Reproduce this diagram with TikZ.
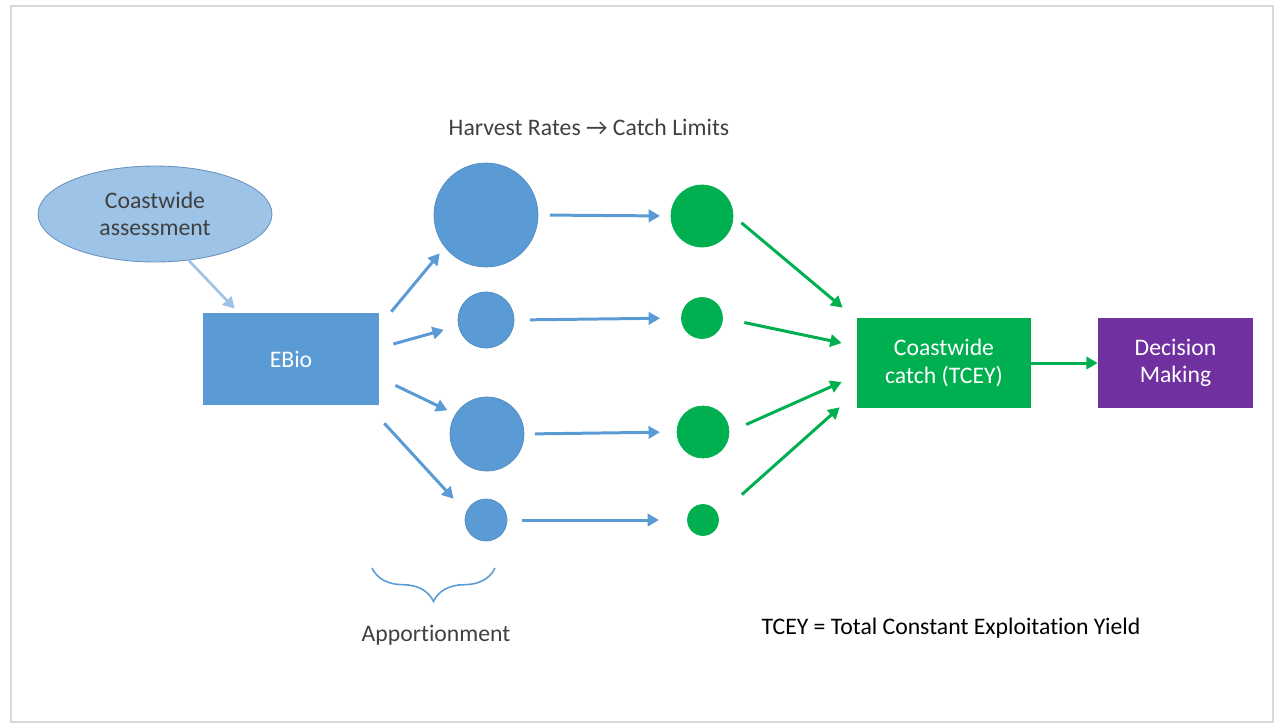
\documentclass[tikz,border=0pt]{standalone}
\usepackage{fontspec}
\setmainfont{Carlito}[Ligatures=NoCommon]
\usetikzlibrary{arrows.meta,shapes.geometric,decorations.pathreplacing}
\definecolor{boxblue}{HTML}{5B9BD5}
\definecolor{lightblue}{HTML}{9DC3E6}
\definecolor{edgeblue}{HTML}{6A93C2}
\definecolor{boxgreen}{HTML}{00B050}
\definecolor{boxpurple}{HTML}{7030A0}
\definecolor{textgray}{HTML}{404040}
\tikzset{
  blk/.style={rectangle, minimum height=1.8cm, text=white, align=center, inner sep=0pt},
  rate/.style={circle, fill=boxblue, draw=boxblue!90!black, line width=0.4pt, inner sep=0pt},
  limit/.style={circle, fill=boxgreen, draw=boxgreen, line width=0.4pt, inner sep=0pt},
  bluearr/.style={draw=boxblue, line width=1.7pt, -{Triangle[length=6.5pt,width=7pt]}},
  greenarr/.style={draw=boxgreen, line width=1.7pt, -{Triangle[length=6.5pt,width=7pt]}},
}

\begin{document}
\begin{tikzpicture}[x=0.02cm, y=-0.02cm, font=\fontsize{13.5}{15.5}\selectfont]
\useasboundingbox (0,0) rectangle (1275,724);
%%%%% Frame %%%%%
\draw[gray!30, line width=1.5pt] (11,6) rectangle (1273,722);

%%%%% Boxes %%%%%
\node[ellipse, fill=lightblue, draw=edgeblue, line width=0.5pt, minimum width=4.68cm, minimum height=1.92cm, inner sep=0pt, align=center, text=textgray] (assess) at (155,214) {Coastwide\\assessment};
\node[blk, fill=boxblue, minimum width=3.52cm, minimum height=1.84cm] (ebio) at (291,359) {EBio};
\node[blk, fill=boxgreen, minimum width=3.48cm] (tcey) at (944,363) {Coastwide\\catch (TCEY)};
\node[blk, fill=boxpurple, minimum width=3.1cm] (decide) at (1175.5,363) {Decision\\Making};

%%%%% Harvest rates and catch limits %%%%%
\node[rate, minimum size=2.08cm] (hr1) at (486,215) {};
\node[rate, minimum size=1.12cm] (hr2) at (486,320) {};
\node[rate, minimum size=1.48cm] (hr3) at (487,434) {};
\node[rate, minimum size=0.84cm] (hr4) at (486,520) {};
\node[limit, minimum size=1.24cm] (cl1) at (702,216) {};
\node[limit, minimum size=0.82cm] (cl2) at (702,318) {};
\node[limit, minimum size=1.04cm] (cl3) at (703,432) {};
\node[limit, minimum size=0.62cm] (cl4) at (703,520) {};

%%%%% Labels %%%%%
\node[text=textgray] (hrcl) at (589,127) {Harvest Rates → Catch Limits};
\node[text=textgray] (apport) at (436,635) {Apportionment};
\node[text=black] (tceydef) at (951,628) {TCEY = Total Constant Exploitation Yield};
\draw[boxblue, line width=0.9pt, decorate, decoration={brace, amplitude=19pt}] (495,568) -- (372,568);

%%%%% Arrows %%%%%
\draw[draw=lightblue, line width=1.5pt, -{Triangle[length=6.5pt,width=7pt]}] (assess.306) -- ([shift={(32,-4)}]ebio.north west);
\draw[bluearr, shorten >=4.5pt] ([shift={(12,-1)}]ebio.north east) -- (hr1.218);
\draw[bluearr, shorten >=8.5pt] ([shift={(14,-15)}]ebio.east) -- (hr2.192);
\draw[bluearr, shorten >=5pt] ([shift={(16,-20)}]ebio.south east) -- (hr3.148);
\draw[bluearr, shorten >=10.5pt] ([shift={(5,18)}]ebio.south east) -- (hr4.159);
\foreach \i/\a/\b in {1/6.5pt/6pt, 2/9pt/12pt, 3/6pt/9.5pt, 4/8.5pt/16pt}{
  \draw[bluearr, shorten <=\a, shorten >=\b] (hr\i.east) -- (cl\i.west);
}
\draw[greenarr, shorten <=6pt] (cl1.east) -- ([shift={(-14,-10)}]tcey.north west);
\draw[greenarr, shorten <=12.5pt] (cl2.east) -- ([shift={(-15,-20)}]tcey.west);
\draw[greenarr, shorten <=10.5pt] (cl3.east) -- ([shift={(-15,19)}]tcey.west);
\draw[greenarr, shorten <=18pt] (cl4.16) -- ([shift={(-17,-1)}]tcey.south west);
\draw[greenarr] (tcey.east) -- (decide.west);
\end{tikzpicture}
\end{document}
